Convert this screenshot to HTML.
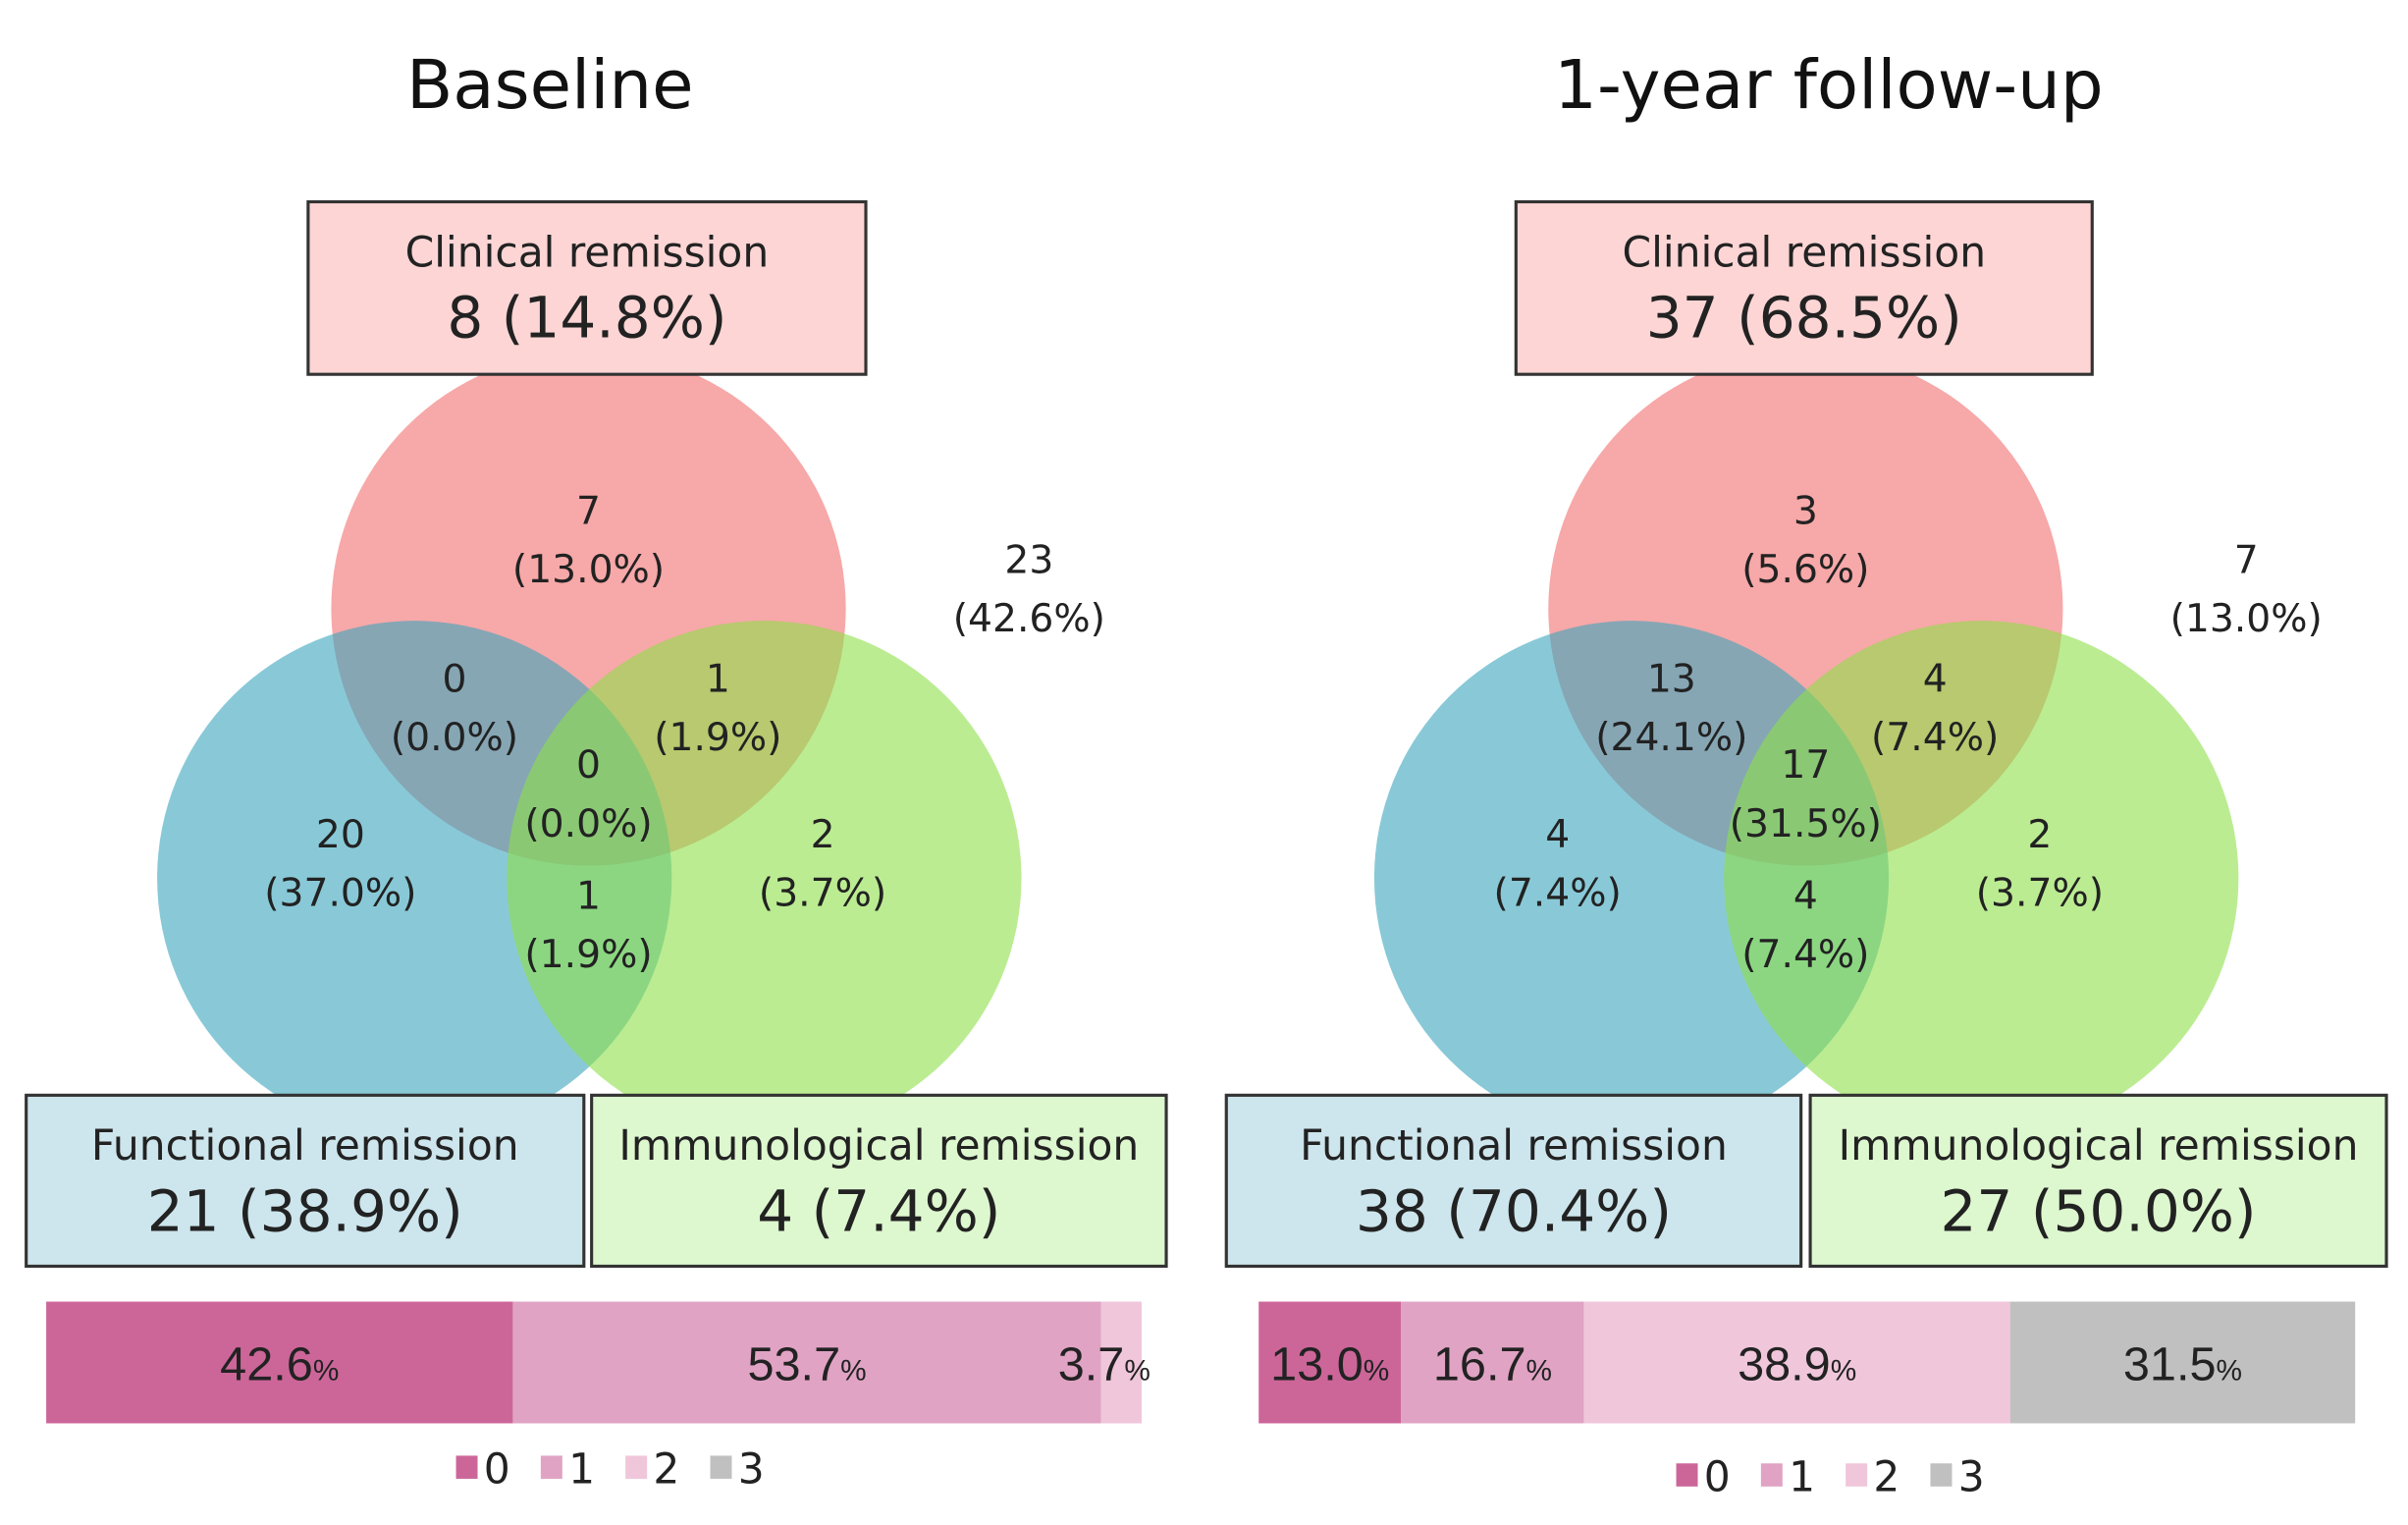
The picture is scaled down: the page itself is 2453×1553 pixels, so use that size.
<!DOCTYPE html>
<html><head><meta charset="utf-8"><style>
html,body{margin:0;padding:0;background:#fff;}
svg{display:block;font-family:"DejaVu Sans","Liberation Sans",sans-serif;}
</style></head><body>
<svg id="chart" width="2453" height="1553" viewBox="0 0 1563 990" preserveAspectRatio="none" xmlns="http://www.w3.org/2000/svg"></svg>
<script>
// ---- data ----
const panelTitles = ["Baseline", "1-year follow-up"];
const clinicalTotals = ["8 (14.8%)", "37 (68.5%)"];
const functionalTotals = ["21 (38.9%)", "38 (70.4%)"];
const immunoTotals = ["4 (7.4%)", "27 (50.0%)"];
// region order: clinicalOnly, clin+func, clin+immuno, all, funcOnly, immunoOnly, func+immuno, none
const regionCountsBaseline = [7, 0, 1, 0, 20, 2, 1, 23];
const regionPctBaseline = ["13.0", "0.0", "1.9", "0.0", "37.0", "3.7", "1.9", "42.6"];
const regionCountsFollow = [3, 13, 4, 17, 4, 2, 4, 7];
const regionPctFollow = ["5.6", "24.1", "7.4", "31.5", "7.4", "3.7", "7.4", "13.0"];
const barCategories = ["0", "1", "2", "3"];
const barBaseline = [42.6, 53.7, 3.7, 0];
const barFollow = [13.0, 16.7, 38.9, 31.5];

const NS = "http://www.w3.org/2000/svg";
const svg = document.getElementById("chart");
function mk(tag, attrs, parent, text) {
  const e = document.createElementNS(NS, tag);
  for (const k in attrs) e.setAttribute(k, attrs[k]);
  if (text !== undefined) e.textContent = text;
  (parent || svg).appendChild(e);
  return e;
}
const barColors = ["#cc6699", "#e0a3c4", "#f0c6da", "#c0c0c0"];
const regionOffsets = [[0,-55],[-87,54],[84,54],[0,110],[-161,155],[152,155],[0,195],[286,-23]];
const boxGeom = [
  [[200,362],[17,362],[384,373]],
  [[194,374],[6,373],[385,374]]
];
const titleX = [357, 397];

function panel(i, ox, counts, pcts, bars) {
  const g = mk("g", {transform: "translate(" + ox + ",0)"});
  
  
  const cx = 382, cy = 395, r = 167, dx = 113, dy = 175;
  const t = mk("text", {x: titleX[i], y: 70, "text-anchor": "middle", "font-size": 44, fill: "#111"}, g, panelTitles[i]);
  
  
  const circ = [["#f06060", .55, cx, cy, "clinical-circle"], ["#3aa5bd", .6, cx - dx, cy + dy, "functional-circle"], ["#8ee04a", .6, cx + dx + 1, cy + dy, "immunological-circle"]];
  circ.forEach(c => {
    const e = mk("circle", {cx: c[2], cy: c[3], r: r, fill: c[0], "fill-opacity": c[1]}, g);
    
    
  });
  const bgm = boxGeom[i];
  const boxes = [
    [bgm[0][0], 131, bgm[0][1], 112, "#fdd5d5", "Clinical remission", clinicalTotals[i], "clinical-remission-box"],
    [bgm[1][0], 711, bgm[1][1], 111, "#cde5ec", "Functional remission", functionalTotals[i], "functional-remission-box"],
    [bgm[2][0], 711, bgm[2][1], 111, "#ddf7cf", "Immunological remission", immunoTotals[i], "immunological-remission-box"]
  ];
  boxes.forEach(b => {
    const bg = mk("g", {}, g);
    
    
    mk("rect", {x: b[0], y: b[1], width: b[2], height: b[3], fill: b[4], stroke: "#333", "stroke-width": 2}, bg);
    mk("text", {x: b[0] + b[2] / 2, y: b[1] + 42, "text-anchor": "middle", "font-size": 27, fill: "#222"}, bg, b[5]);
    mk("text", {x: b[0] + b[2] / 2, y: b[1] + 88, "text-anchor": "middle", "font-size": 37, fill: "#222"}, bg, b[6]);
  });
  counts.forEach((c, k) => {
    const o = regionOffsets[k];
    const lg = mk("g", {}, g);
    
    
    mk("text", {x: cx + o[0], y: cy + o[1], "text-anchor": "middle", "font-size": 25, fill: "#222"}, lg, String(c));
    mk("text", {x: cx + o[0], y: cy + o[1] + 38, "text-anchor": "middle", "font-size": 25, fill: "#222"}, lg, "(" + pcts[k] + "%)");
  });
  const bx0 = 30 - (i ? 3 : 0), bw = 711, by = 845, bh = 79;
  const xs = v => bw * v / 100;
  let acc = 0;
  bars.forEach((v, k) => {
    if (v <= 0) return;
    const x = bx0 + xs(acc);
    const rct = mk("rect", {x: x, y: by, width: xs(v), height: bh, fill: barColors[k]}, g);
    
    
    const small = xs(v) < 60;
    const tx = small ? x - 28 : x + xs(v) / 2;
    const tt = mk("text", {x: tx, y: by + 51, "text-anchor": small ? "start" : "middle", "font-size": 31, fill: "#222", style: "font-family:'Liberation Sans',sans-serif"}, g);
    
    
    mk("tspan", {}, tt, v.toFixed(1));
    mk("tspan", {"font-size": 19}, tt, "%");
    acc += v;
  });
  const lx = 296 + (i ? 2 : 0), ly = 945 + (i ? 5 : 0);
  barCategories.forEach((c, k) => {
    const le = mk("g", {}, g);
    
    
    mk("rect", {x: lx + k * 55, y: ly, width: 14, height: 15, fill: barColors[k]}, le);
    mk("text", {x: lx + k * 55 + 18, y: ly + 18, "font-size": 27, fill: "#222"}, le, c);
  });
}
panel(0, 0, regionCountsBaseline, regionPctBaseline, barBaseline);
panel(1, 790, regionCountsFollow, regionPctFollow, barFollow);
</script>
</body></html>
